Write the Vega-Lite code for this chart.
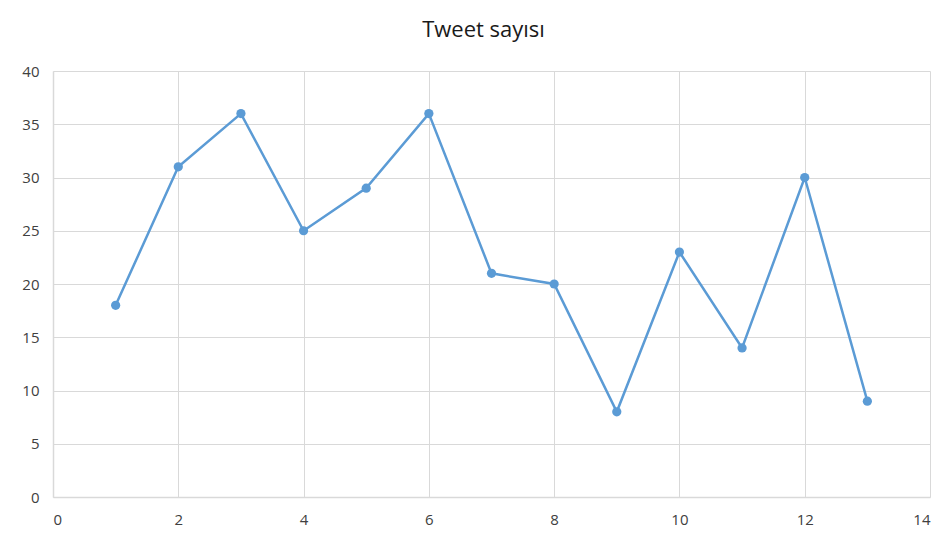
{
  "$schema": "https://vega.github.io/schema/vega-lite/v6.json",
  "autosize": "none",
  "width": 877,
  "height": 426,
  "padding": {"left": 53, "top": 71, "right": 21, "bottom": 45},
  "background": "white",
  "title": {"text": "Tweet sayısı", "font": "Open Sans", "fontSize": 22, "fontWeight": "normal", "color": "#1a1a1a", "anchor": "middle", "offset": 22, "dx": -8},
  "config": {
    "view": {"stroke": null},
    "axis": {"gridColor": "#d9d9d9", "gridWidth": 1, "domainColor": "#d9d9d9", "domainWidth": 1.5, "ticks": false, "labelFont": "Open Sans", "labelFontSize": 15, "labelColor": "#404040", "title": null}
  },
  "data": {"values": [
    {"x": 1, "y": 18}, {"x": 2, "y": 31}, {"x": 3, "y": 36}, {"x": 4, "y": 25},
    {"x": 5, "y": 29}, {"x": 6, "y": 36}, {"x": 7, "y": 21}, {"x": 8, "y": 20},
    {"x": 9, "y": 8}, {"x": 10, "y": 23}, {"x": 11, "y": 14}, {"x": 12, "y": 30},
    {"x": 13, "y": 9}
  ]},
  "layer": [
    {
      "mark": {"type": "line", "color": "#5b9bd5", "strokeWidth": 2.5},
      "encoding": {
        "x": {"field": "x", "type": "quantitative", "scale": {"domain": [0, 14], "nice": false}, "axis": {"values": [0, 2, 4, 6, 8, 10, 12, 14], "format": "d", "labelPadding": 15}},
        "y": {"field": "y", "type": "quantitative", "scale": {"domain": [0, 40], "nice": false}, "axis": {"values": [0, 5, 10, 15, 20, 25, 30, 35, 40], "format": "d", "labelPadding": 14}}
      }
    },
    {
      "mark": {"type": "point", "filled": true, "color": "#5b9bd5", "size": 85, "opacity": 1},
      "encoding": {
        "x": {"field": "x", "type": "quantitative"},
        "y": {"field": "y", "type": "quantitative"}
      }
    }
  ]
}
